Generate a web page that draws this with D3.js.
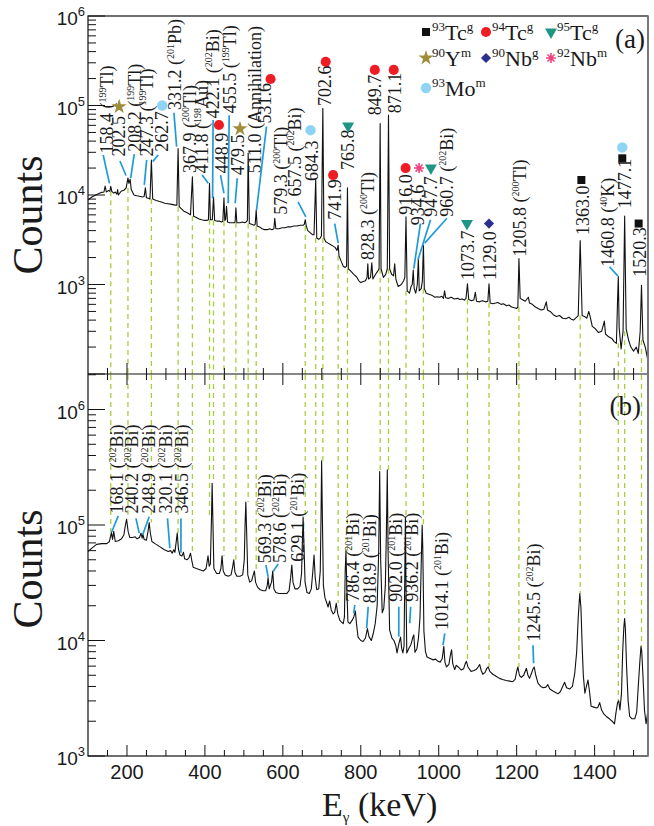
<!DOCTYPE html>
<html>
<head>
<meta charset="utf-8">
<script src="https://cdn.jsdelivr.net/npm/d3@7"></script>
<style>body{margin:0;background:#fff}</style>
</head>
<body>
<svg id="chart" width="654" height="826"></svg>
<script>
// ---- data ----
// (a) spectrum: [keV, counts]
var specA = [
 [100,8800],[110,9500],[120,1.0e4],[135,1.07e4],[141,1.08e4],[144,1.26e4],[147,1.08e4],
 [152,1.12e4],[156,1.1e4],[158.4,1.25e4],[161,1.1e4],[166,1.05e4],[170,1.08e4],[174,1.02e4],[176,1.15e4],[178,1.0e4],
 [185,1.1e4],[192,1.13e4],[198,1.2e4],[202.5,1.55e4],[205,1.35e4],[208.2,1.5e4],[211,1.15e4],
 [218,1.0e4],[225,9800],[232,9700],[240,9500],[244,9600],[247.3,1.2e4],[250,9300],
 [255,9200],[259,9000],[262.7,2.45e4],[266,9000],[275,8700],[282,8500],[290,8300],[297,8100],[305,8000],[312,7900],[318,7800],[324,7700],
 [328,7700],[331.2,3.3e4],[334,7400],[340,7000],[346,6600],[352,6400],[358,6200],
 [363,6000],[367.9,1.6e4],[371,5800],[378,5600],[385,5400],[392,5300],[400,5200],[405,5200],
 [409,5300],[411.8,1.35e4],[414,5300],[419,5300],[422.1,9500],[425,5200],[432,5100],[438,5100],[443,5000],
 [446,5100],[448.9,9300],[451,5200],[453,5300],[455.5,7500],[458,5000],[463,4900],[470,4900],[476,4900],
 [477.5,5000],[479.5,7200],[482,4900],[490,4900],[496,5000],[502,4900],[506,5000],
 [509,5200],[511,2.95e4],[514,4800],[520,4700],[526,4600],[529,4700],[531.6,6800],[534,4500],
 [540,4400],[547,4200],[553,4100],[560,4100],[566,4200],[572,4100],[577,4200],[579.3,5500],[582,4200],
 [590,4200],[598,4300],[605,4300],[612,4400],[620,4400],[628,4500],[636,4500],[645,4600],[652,4600],
 [655,4700],[657.5,5300],[660,4500],[664,4000],[670,3800],[676,3600],[680,3600],[684.3,1.5e4],[687,3300],
 [692,3200],[696,3300],[699,3500],[702.6,9.3e4],[705.5,3300],[710,3000],[716,2900],[722,2800],[728,2700],[734,2600],
 [739,2400],[741.9,2750],[744,2100],[750,1800],[755,1600],[760,1550],[763.5,1600],[765.8,1.2e4],[768,1500],
 [775,1400],[782,1300],[789,1220],[795,1100],[800,1050],[806,1080],[812,1100],[816,1200],[818,1700],[820,1150],
 [825,1200],[828.3,1750],[831,1150],[838,1300],[843,1400],[847,1500],[849.7,6.3e4],[852,1500],
 [858,1200],[864,1300],[868,1500],[871.1,7.8e4],[874,1500],[879,1300],[884,1250],[887,1700],[890,1150],[896,950],[904,1000],[910,1100],
 [913,1200],[916.0,5700],[919,850],[925,800],[929,950],[932,1000],[934.6,1450],[937,900],[941,800],
 [945,1000],[947.7,1950],[950,850],[955,900],[958,1100],[960.7,2750],[963,900],
 [968,800],[975,780],[982,760],[990,720],[996,730],[1002,720],[1008,740],[1012,700],
 [1015,850],[1018,710],[1025,700],[1032,720],[1040,690],[1048,700],[1054,680],[1060,690],[1066,670],
 [1070,700],[1073.7,1020],[1077,680],[1084,660],[1090,670],[1094,820],[1097,650],[1104,640],[1112,660],[1120,640],
 [1126,650],[1129,1020],[1132,620],[1139,610],[1146,620],[1152,630],[1160,600],[1166,610],[1174,580],[1180,590],[1187,560],[1194,550],[1200,540],
 [1203,560],[1205.8,1950],[1209,700],[1214,680],[1222,650],[1230,720],[1233,620],[1240,600],[1248,560],[1255,540],[1263,520],
 [1270,530],[1276,640],[1279,520],[1286,500],[1294,460],[1302,440],[1310,450],[1318,420],[1326,415],[1334,430],[1340,410],[1346,400],
 [1358,450],[1363,3100],[1368,450],[1374,440],[1380,420],[1385,500],[1388,450],[1394,340],[1402,320],[1410,290],[1418,300],[1425,390],[1428,280],[1436,260],[1444,250],[1450,230],
 [1456,220],[1459,700],[1460.8,1230],[1463,330],[1468,190],[1473,300],[1477.1,5800],[1481,320],
 [1487,240],[1493,200],[1500,180],[1507,200],[1512,170],[1517,300],[1520.3,980],[1524,240],[1530,200],[1537,140]
];

// (b) spectrum: [keV, counts]
var specB = [
 [100,5.9e4],[110,6.3e4],[122,6.8e4],[135,6.9e4],[148,6.9e4],[155,7.2e4],[160,8.6e4],[163,7.5e4],[166,8.8e4],[170,7.2e4],
 [178,7.3e4],[186,7.6e4],[192,8.2e4],[196,1.0e5],[199,1.12e5],[203,8.8e4],[207,7.8e4],[214,7.8e4],[221,7.9e4],[226,7.6e4],
 [232,7.8e4],[236,8.5e4],[239,7.7e4],[241,8.3e4],[244,7.5e4],[250,7.4e4],[254,8.8e4],[257,1.05e5],[260,8.5e4],[264,7.2e4],
 [272,6.9e4],[284,6.5e4],[296,6.1e4],[306,5.9e4],[312,6.0e4],[316,5.7e4],[320,6.1e4],[323,5.8e4],
 [326,7.0e4],[329,8.5e4],[332,6.2e4],[336,5.5e4],[341,5.4e4],[345,5.8e4],[348,5.1e4],
 [354,5.0e4],[359,5.2e4],[363,5.7e4],[366,5.0e4],[370,4.3e4],[378,4.2e4],[387,4.1e4],[396,4.0e4],[403,4.2e4],[408,5.4e4],[411,4.4e4],
 [414,4.6e4],[417,1.2e5],[418.5,2.3e5],[420,1.3e5],[423,4.2e4],[430,3.8e4],[437,3.8e4],[441,4.2e4],[444,5.4e4],[447,4.0e4],
 [452,3.7e4],[460,3.6e4],[467,3.7e4],[471,4.3e4],[474,5.0e4],[477,3.9e4],
 [482,3.6e4],[490,3.6e4],[497,3.7e4],[501,5.0e4],[503,1.0e5],[505,1.58e5],[507,9.0e4],[510,3.7e4],
 [515,3.2e4],[520,3.3e4],[524,3.7e4],[527,4.0e4],[530,3.2e4],[535,2.9e4],[542,2.75e4],[550,2.7e4],[556,2.7e4],[560,3.0e4],[562,3.5e4],[565,2.8e4],[571,3.2e4],[574,4.0e4],[577,2.8e4],
 [582,2.6e4],[590,2.55e4],[600,2.55e4],[610,2.55e4],[616,2.7e4],[620,3.5e4],[623,4.5e4],[626,3.2e4],[631,2.8e4],
 [638,2.8e4],[644,2.95e4],[648,3.8e4],[650,7.0e4],[652,1.17e5],[654,7.0e4],[657,3.2e4],
 [662,2.6e4],[668,2.55e4],[673,2.8e4],[677,4.0e4],[680,5.5e4],[683,3.5e4],[687,2.75e4],
 [692,2.8e4],[696,4.0e4],[698,1.2e5],[699.5,3.6e5],[701,1.5e5],[704,3.0e4],[708,2.35e4],
 [713,2.1e4],[716,1.95e4],[720,2.2e4],[724,1.85e4],[729,1.7e4],[733,1.75e4],[737,2.1e4],[741,1.7e4],
 [746,1.5e4],[750,1.45e4],[755,1.4e4],[758,1.6e4],[760,4.0e4],[762,6.0e4],[764,3.0e4],[767,1.45e4],
 [772,1.4e4],[778,1.5e4],[782,1.6e4],[786,1.8e4],[789,1.4e4],[793,1.07e4],[800,1.0e4],[806,9800],[812,1.05e4],[817,1.27e4],[821,1.08e4],[827,1.0e4],
 [832,1.15e4],[837,1.4e4],[842,2.0e4],[846,6.0e4],[848.5,2.9e5],[851,5.0e4],[855,1.74e4],
 [859,1.9e4],[863,3.0e4],[866,1.0e5],[868,3.0e5],[870,6.0e4],[874,1.23e4],
 [880,1.05e4],[885,1.0e4],[890,9000],[893,7800],[898,9500],[902,1.07e4],[905,8500],[908,7800],
 [911,9000],[913,4.0e4],[914.5,1.17e5],[916,3.0e4],[918,7800],[923,8500],[929,9300],[933,1.05e4],[936,1.12e4],[939,7900],[944,8500],[948,1.05e4],
 [952,1.6e4],[955,4.5e4],[957.5,1.0e5],[959,6.5e4],[962,1.2e4],[966,8000],
 [970,7200],[978,7000],[985,6800],[992,6900],[998,6600],[1004,6500],[1009,7000],[1013,8900],[1016,6500],
 [1020,5900],[1026,6200],[1030,7500],[1033,8300],[1036,6300],[1041,5600],[1045,6100],[1050,5900],[1058,5550],
 [1064,5700],[1068,6300],[1071,6600],[1075,5900],[1083,5400],[1090,5500],[1096,5600],[1101,5900],[1105,6200],[1109,5500],[1113,5100],
 [1119,5300],[1123,5700],[1127,5900],[1131,5400],[1139,5100],[1147,4900],[1156,4700],[1164,4600],[1173,4500],[1182,4450],[1190,4400],
 [1196,4600],[1200,5400],[1203,5900],[1207,5000],[1212,4800],[1218,5000],[1225,5750],[1229,5000],[1233,4700],
 [1238,5200],[1242,5700],[1245,5900],[1249,5000],[1255,4250],[1262,4000],[1268,3900],
 [1275,3950],[1280,4150],[1285,3800],[1293,3650],[1300,3550],[1306,3450],[1312,3600],[1318,4000],[1323,4350],[1328,3900],
 [1336,3800],[1343,4000],[1349,5200],[1354,8000],[1358,1.6e4],[1362,2.55e4],[1365,1.9e4],[1368,9000],[1371,5000],[1375,3500],
 [1379,4000],[1383,4550],[1387,3600],[1391,2700],[1398,2650],[1405,2600],[1408,2630],[1413,2900],[1418,2500],[1424,2300],[1430,2200],
 [1438,2100],[1445,2000],[1451,1900],[1455,2400],[1459,2900],[1462,3000],[1465,2500],
 [1469,3500],[1472,8000],[1475,1.3e4],[1477,1.55e4],[1479,1.25e4],[1482,6000],[1486,3000],[1490,2200],
 [1496,2100],[1503,2100],[1508,2400],[1512,4000],[1516,6500],[1519,8900],[1521,8000],[1524,5000],[1528,2500],[1532,1900],[1537,2500]
];

// energies marked with dashed guides in both panels
var guideE = [158.4,202.5,262.7,331.2,367.9,411.8,422.1,448.9,479.5,511.0,531.6,657.5,684.3,702.6,741.9,765.8,
              849.7,871.1,916.0,960.7,1073.7,1129.0,1205.8,1363.0,1460.8,1477.1,1520.3];

// peak labels of (a): label anchor / leader ends / markers in [keV, counts]
var labelsA = [
 {e:158.4, iso:'199', el:'Tl', at:[147,2.9e4], lead:[[139,2.8e4],[155,1.35e4]]},
 {e:202.5, at:[180,2.7e4], lead:[[182,2.4e4],[197.5,1.65e4]], mk:[['y90',180,9.7e4]]},
 {e:208.2, iso:'199', el:'Tl', at:[220.5,3.05e4], lead:[[218.7,2.87e4],[209.5,1.54e4]]},
 {e:247.3, iso:'199', el:'Tl', at:[250.5,2.7e4], lead:[[250.5,2.46e4],[244.4,1.3e4]]},
 {e:262.7, at:[289,3.05e4], lead:[[280,2.8e4],[266,2.36e4]], mk:[['mo93',290.5,1.0e5]]},
 {e:331.2, iso:'201', el:'Pb', at:[323,8.9e4], lead:[[320.5,8.3e4],[327.4,3.47e4]]},
 {e:367.9, iso:'200', el:'Tl', at:[361.5,1.76e4]},
 {e:411.8, iso:'198', el:'Au', at:[391.5,1.75e4], lead:[[393,1.67e4],[408.5,1.35e4]]},
 {e:422.1, iso:'202', el:'Bi', at:[421,7.2e4], lead:[[421,6.9e4],[419.7,9200]]},
 {e:448.9, at:[443,1.75e4], lead:[[440,1.67e4],[448.7,1.05e4]], mk:[['tc94',436,6.05e4]]},
 {e:455.5, iso:'199', el:'Tl', at:[464,8.2e4], lead:[[462.3,7.8e4],[459.7,8100]]},
 {e:479.5, at:[483,1.67e4], lead:[[483,1.54e4],[477.7,8100]], mk:[['y90',490,5.5e4]]},
 {e:511.0, note:'Annihilation', at:[528,1.75e4]},
 {e:531.6, at:[554,6.3e4], lead:[[558,5.8e4],[532.5,6800]], mk:[['tc94',568.5,1.98e5]]},
 {e:579.3, iso:'200', el:'Tl', at:[595,6000]},
 {e:657.5, iso:'202', el:'Bi', at:[631,9600], lead:[[639,8400],[659,5700]]},
 {e:684.3, at:[674,1.43e4], mk:[['mo93',671,5.3e4]]},
 {e:702.6, at:[708,9.9e4], mk:[['tc94',710,3.08e5]]},
 {e:741.9, at:[733,5300], lead:[[733,4800],[742,2900]], mk:[['tc94',729,1.67e4]]},
 {e:765.8, at:[767.5,1.9e4], mk:[['tc95',767.5,5.9e4]]},
 {e:828.3, iso:'200', el:'Tl', at:[818,1880]},
 {e:849.7, at:[836,7.8e4], mk:[['tc94',836,2.5e5]]},
 {e:871.1, at:[887,8.2e4], mk:[['tc94',884.5,2.5e5]]},
 {e:916.0, at:[915,6000], mk:[['tc94',915,2.0e4]]},
 {e:934.6, at:[947,4600], lead:[[953,4800],[936,1500]], mk:[['nb92',949.5,2.0e4]]},
 {e:947.7, at:[980,5700], lead:[[979,5300],[947,1900]], mk:[['tc95',980,2.0e4]]},
 {e:960.7, iso:'202', el:'Bi', at:[1020,5700], lead:[[1021,5500],[964,2900]]},
 {e:1073.7, at:[1075,1120], mk:[['tc95',1072.5,4800]]},
 {e:1129.0, at:[1131,1120], mk:[['nb90',1129,4800]]},
 {e:1205.8, iso:'200', el:'Tl', at:[1208,2050]},
 {e:1363.0, at:[1368.5,3570], mk:[['tc93',1366,1.47e4]]},
 {e:1460.8, iso:'40', el:'K', at:[1434,1580], lead:[[1438,1580],[1459.5,1250]]},
 {e:1477.1, at:[1477,7100], mk:[['tc93',1471,2.57e4],['mo93',1471,3.4e4]]},
 {e:1520.3, at:[1515,1220], mk:[['tc93',1513,4800]]}
];

// peak labels of (b)
var labelsB = [
 {e:168.1, iso:'202', el:'Bi', at:[173.6,1.26e5], lead:[[177.7,1.2e5],[160.8,8.7e4]]},
 {e:240.2, iso:'202', el:'Bi', at:[212,1.26e5], lead:[[223,1.14e5],[231.5,8.5e4]]},
 {e:248.9, iso:'202', el:'Bi', at:[254.6,1.26e5], lead:[[257,1.18e5],[240,8.2e4]]},
 {e:320.1, iso:'202', el:'Bi', at:[300,1.26e5], lead:[[304,1.14e5],[310,6.3e4]]},
 {e:346.5, iso:'202', el:'Bi', at:[340,1.26e5], lead:[[338.5,1.14e5],[338.5,5.75e4]]},
 {e:569.3, iso:'202', el:'Bi', at:[554,4.66e4], lead:[[556.5,4.5e4],[562.3,3.56e4]]},
 {e:578.6, iso:'202', el:'Bi', at:[592,4.7e4], lead:[[588,4.6e4],[575,3.95e4]]},
 {e:629.1, iso:'201', el:'Bi', at:[637,4.8e4]},
 {e:786.4, iso:'201', el:'Bi', at:[779.5,2.17e4], lead:[[784.6,2.03e4],[782,1.72e4]]},
 {e:818.9, iso:'201', el:'Bi', at:[823,2.1e4], lead:[[819,1.96e4],[815,1.28e4]]},
 {e:902.0, iso:'201', el:'Bi', at:[890,2.17e4], lead:[[897.5,1.96e4],[897.5,1.08e4]]},
 {e:936.2, iso:'201', el:'Bi', at:[930,2.17e4], lead:[[928,1.96e4],[925.6,1.41e4]]},
 {e:1014.1, iso:'201', el:'Bi', at:[1007,1.23e4], lead:[[1015.5,1.15e4],[1011,9100]]},
 {e:1245.5, iso:'202', el:'Bi', at:[1243.5,9800], lead:[[1241.8,9100],[1243.5,6350]]}
];

var legendRows = [
 [['tc93','93','Tc','g'],['tc94','94','Tc','g'],['tc95','95','Tc','g']],
 [['y90','90','Y','m'],['nb90','90','Nb','g'],['nb92','92','Nb','m']],
 [['mo93','93','Mo','m']]
];

var xTickLabels = [200,400,600,800,1000,1200,1400];
var decadeExp = [3,4,5,6];

// ---- layout ----
var svg = d3.select('#chart');
var L = 88, R = 648, T = 16, MID = 374, B = 756;
var serif = "'Liberation Serif', 'Times New Roman', 'DejaVu Serif', serif";
var sans = "'Liberation Sans', Arial, Helvetica, sans-serif";

var x = d3.scaleLinear().domain([100,1537]).range([L,R]);
var yA = d3.scaleLog().domain([100,1e6]).range([MID,T]);
var yB = d3.scaleLog().domain([1000,2.03e6]).range([B,MID]);

var defs = svg.append('defs');
defs.append('clipPath').attr('id','clipA').append('rect')
	.attr('x',L).attr('y',T).attr('width',R-L).attr('height',MID-T);
defs.append('clipPath').attr('id','clipB').append('rect')
	.attr('x',L).attr('y',MID).attr('width',R-L).attr('height',B-MID);

// marker shapes
var mkStyle = {
	tc93: {fill:'#111'},
	tc94: {fill:'#ee1d24'},
	tc95: {fill:'#1f9585'},
	y90:  {fill:'#a08d3a'},
	nb90: {fill:'#2b2f8e'},
	nb92: {stroke:'#f0427e'},
	mo93: {fill:'#8fd4f4'}
};
function markerPath(type) {
	if (type==='tc93') return d3.symbol(d3.symbolSquare, 64)();
	if (type==='tc94') return d3.symbol(d3.symbolCircle, 80)();
	if (type==='mo93') return d3.symbol(d3.symbolCircle, 85)();
	if (type==='tc95') return d3.symbol(d3.symbolTriangle, 62)();
	if (type==='y90') return d3.symbol(d3.symbolStar, 70)();
	if (type==='nb90') return d3.symbol(d3.symbolSquare, 52)();
	var p = d3.path(), r = 5;
	[0,45,90,135].forEach(function(a){
		var c = Math.cos(a*Math.PI/180)*r, s = Math.sin(a*Math.PI/180)*r;
		p.moveTo(-c,-s); p.lineTo(c,s);
	});
	return p.toString();
}
function drawMarker(g, type, px, py) {
	var rot = type==='tc95' ? ' rotate(180)' : (type==='nb90' ? ' rotate(45)' : '');
	var m = g.append('path').attr('d', markerPath(type))
		.attr('transform','translate('+px+','+py+')'+rot);
	var st = mkStyle[type];
	if (st.fill) m.attr('fill', st.fill);
	else m.attr('fill','none').attr('stroke', st.stroke).attr('stroke-width',1.6);
}

function specAt(spec, e, w, fn) {
	var v = spec.filter(function(d){return Math.abs(d[0]-e)<=w;}).map(function(d){return d[1];});
	return fn(v);
}

// ---- dashed guides ----
var guideColor = '#a6cf3e';
svg.append('g').selectAll('line').data(guideE).enter()
	.append('line')
	.attr('x1',function(d){return x(d);}).attr('x2',function(d){return x(d);})
	.attr('y1',function(d){return yA(specAt(specA,d,5,d3.min));})
	.attr('y2',MID)
	.attr('stroke',guideColor).attr('stroke-width',1.3).attr('stroke-dasharray','5,4');
svg.append('g').selectAll('line').data(guideE).enter()
	.append('line')
	.attr('x1',function(d){return x(d);}).attr('x2',function(d){return x(d);})
	.attr('y1',MID+1)
	.attr('y2',function(d){return yB(specAt(specB,d,6,d3.max));})
	.attr('stroke',guideColor).attr('stroke-width',1.3).attr('stroke-dasharray','5,4');

// ---- spectra ----
var lineA = d3.line().x(function(d){return x(d[0]);}).y(function(d){return yA(d[1]);});
var lineB = d3.line().x(function(d){return x(d[0]);}).y(function(d){return yB(d[1]);});
svg.append('path').datum(specA).attr('d',lineA).attr('clip-path','url(#clipA)')
	.attr('fill','none').attr('stroke','#111').attr('stroke-width',1.1).attr('stroke-linejoin','round');
svg.append('path').datum(specB).attr('d',lineB).attr('clip-path','url(#clipB)')
	.attr('fill','none').attr('stroke','#111').attr('stroke-width',1.1).attr('stroke-linejoin','round');

// ---- peak labels ----
function drawLabels(list, y) {
	var g = svg.append('g');
	list.forEach(function(d){
		if (d.lead) {
			g.append('line')
				.attr('x1',x(d.lead[0][0])).attr('y1',y(d.lead[0][1]))
				.attr('x2',x(d.lead[1][0])).attr('y2',y(d.lead[1][1]))
				.attr('stroke','#1f9bd8').attr('stroke-width',1.7);
		}
		var t = g.append('text')
			.attr('transform','translate('+x(d.at[0])+','+y(d.at[1])+') rotate(-90)')
			.style('font-family',serif).attr('font-size',18).attr('fill','#1a1a1a');
		var num = d.e.toFixed(1);
		if (d.iso) {
			t.append('tspan').attr('dy','0.35em').text(num+' (');
			t.append('tspan').attr('font-size',10).attr('dy',-7).text(d.iso);
			t.append('tspan').attr('dy',7).text(d.el+')');
		} else if (d.note) {
			t.append('tspan').attr('dy','0.35em').text(num+' ('+d.note+')');
		} else {
			t.append('tspan').attr('dy','0.35em').text(num);
		}
		(d.mk||[]).forEach(function(m){ drawMarker(g, m[0], x(m[1]), y(m[2])); });
	});
}
drawLabels(labelsA, yA);
drawLabels(labelsB, yB);

// ---- legend ----
var legCols = [426, 486, 551], legRows = [32, 58, 88];
var lg = svg.append('g');
legendRows.forEach(function(row, ri){
	row.forEach(function(it, ci){
		var mx = legCols[ci], my = legRows[ri];
		drawMarker(lg, it[0], mx, my);
		var t = lg.append('text').attr('x',mx+6).attr('y',my+8)
			.style('font-family',serif).attr('font-size',22).attr('fill','#1a1a1a');
		t.append('tspan').attr('font-size',13).attr('dy',-9).text(it[1]);
		t.append('tspan').attr('dy',9).text(it[2]);
		t.append('tspan').attr('font-size',13).attr('dy',-9).text(it[3]);
	});
});
svg.append('text').attr('x',645).attr('y',48).attr('text-anchor','end')
	.style('font-family',serif).attr('font-size',27).attr('fill','#1a1a1a').text('(a)');
svg.append('text').attr('x',641).attr('y',415).attr('text-anchor','end')
	.style('font-family',serif).attr('font-size',27).attr('fill','#1a1a1a').text('(b)');

// ---- axes ----
var ax = svg.append('g').attr('stroke','#111').attr('stroke-width',1);
var minorX = d3.range(150,1537,50);
function xTicks(yPos, dir) {
	ax.append('g').selectAll('line').data(minorX).enter().append('line')
		.attr('x1',function(d){return x(d);}).attr('x2',function(d){return x(d);})
		.attr('y1',yPos)
		.attr('y2',function(d){return yPos+dir*(d%200===0?11:6);});
}
xTicks(B,-1); xTicks(MID,-1); xTicks(MID,1);

function yTicks(y) {
	ax.append('g').selectAll('line').data(y.ticks()).enter().append('line')
		.attr('x1',L)
		.attr('x2',function(d){ return L + (Math.abs(Math.log10(d)-Math.round(Math.log10(d)))<1e-9 ? 17 : 8); })
		.attr('y1',function(d){return y(d);}).attr('y2',function(d){return y(d);});
}
yTicks(yA); yTicks(yB);

// frame
svg.append('rect').attr('x',L).attr('y',T).attr('width',R-L).attr('height',B-T)
	.attr('fill','none').attr('stroke','#111').attr('stroke-width',1.2);
svg.append('line').attr('x1',L).attr('x2',R).attr('y1',MID).attr('y2',MID)
	.attr('stroke','#111').attr('stroke-width',1.2);
svg.append('line').attr('x1',R).attr('x2',R).attr('y1',T).attr('y2',B)
	.attr('stroke','#777').attr('stroke-width',2);

// tick labels
svg.append('g').selectAll('text').data(xTickLabels).enter().append('text')
	.attr('x',function(d){return x(d);}).attr('y',779)
	.attr('text-anchor','middle').style('font-family',sans).attr('font-size',20).attr('fill','#1a1a1a')
	.text(function(d){return d;});

function yLabels(y) {
	decadeExp.forEach(function(k){
		var t = svg.append('text').attr('x',85).attr('y',y(Math.pow(10,k))+9)
			.attr('text-anchor','end').style('font-family',sans).attr('font-size',19).attr('fill','#1a1a1a');
		t.append('tspan').text('10');
		t.append('tspan').attr('font-size',13).attr('dy',-9).text(k);
	});
}
yLabels(yA); yLabels(yB);

// axis titles
svg.append('text').attr('transform','translate(42,215) rotate(-90)').attr('text-anchor','middle')
	.style('font-family',serif).attr('font-size',42).attr('fill','#1a1a1a').text('Counts');
svg.append('text').attr('transform','translate(42,569) rotate(-90)').attr('text-anchor','middle')
	.style('font-family',serif).attr('font-size',42).attr('fill','#1a1a1a').text('Counts');
var xt = svg.append('text').attr('x',322).attr('y',816)
	.style('font-family',serif).attr('font-size',34).attr('fill','#1a1a1a');
xt.append('tspan').text('E');
xt.append('tspan').attr('font-size',15).attr('dy',6).text('γ');
xt.append('tspan').attr('dy',-6).text(' (keV)');
</script>
</body>
</html>
